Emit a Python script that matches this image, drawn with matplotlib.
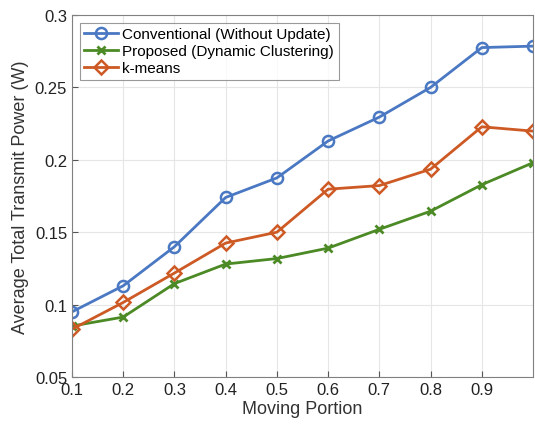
import matplotlib
matplotlib.use("Agg")
import matplotlib.pyplot as plt

plt.rcParams['font.family'] = ['Liberation Sans', 'DejaVu Sans']

portion = [0.1, 0.2, 0.3, 0.4, 0.5, 0.6, 0.7, 0.8, 0.9, 1.0]
conventional = [0.095, 0.113, 0.140, 0.174, 0.1875, 0.213, 0.2295, 0.250, 0.2775, 0.2785]
proposed = [0.0852, 0.0914, 0.1145, 0.128, 0.1318, 0.139, 0.152, 0.1645, 0.1828, 0.198]
kmeans = [0.083, 0.1015, 0.1218, 0.1425, 0.150, 0.1797, 0.1822, 0.1935, 0.2228, 0.2198]

fig = plt.figure(figsize=(5.35, 4.27), dpi=100)
ax = fig.add_axes([72 / 535, 49 / 427, 461 / 535, 362 / 427])

ax.plot(portion, conventional, color='#4a78c2', marker='o', markersize=8,
        markerfacecolor='none', markeredgewidth=1.8, linewidth=2,
        label='Conventional (Without Update)')
ax.plot(portion, proposed, color='#4b8a24', marker='x', markersize=6,
        markeredgewidth=2, linewidth=2,
        label='Proposed (Dynamic Clustering)')
ax.plot(portion, kmeans, color='#cd5a24', marker='D', markersize=7,
        markerfacecolor='none', markeredgewidth=1.8, linewidth=2,
        label='k-means')

ax.set_xlim(0.1, 1.0)
ax.set_ylim(0.05, 0.3)
ax.set_xticks([0.1, 0.2, 0.3, 0.4, 0.5, 0.6, 0.7, 0.8, 0.9])
ax.set_xticklabels(['0.1', '0.2', '0.3', '0.4', '0.5', '0.6', '0.7', '0.8', '0.9'])
ax.set_yticks([0.05, 0.1, 0.15, 0.2, 0.25, 0.3])
ax.set_yticklabels(['0.05', '0.1', '0.15', '0.2', '0.25', '0.3'])
ax.tick_params(labelsize=12, direction='in', length=4, color='#555555', labelcolor='#222222')
ax.grid(True, color='#e6e6e6', linewidth=0.8)
ax.set_axisbelow(True)
for s in ax.spines.values():
    s.set_color('#808080')
    s.set_linewidth(0.8)

ax.set_xlabel('Moving Portion', fontsize=13, color='#333333', labelpad=2)
ax.set_ylabel('Average Total Transmit Power (W)', fontsize=13, color='#333333', labelpad=4)

leg = ax.legend(loc='upper left', fontsize=11, frameon=True, fancybox=False,
                borderpad=0.3, labelspacing=0.2, handlelength=2.2, handletextpad=0.3,
                borderaxespad=0.5)
leg.get_frame().set_edgecolor('#808080')
leg.get_frame().set_linewidth(0.8)

fig.savefig('out.png', dpi=100)
